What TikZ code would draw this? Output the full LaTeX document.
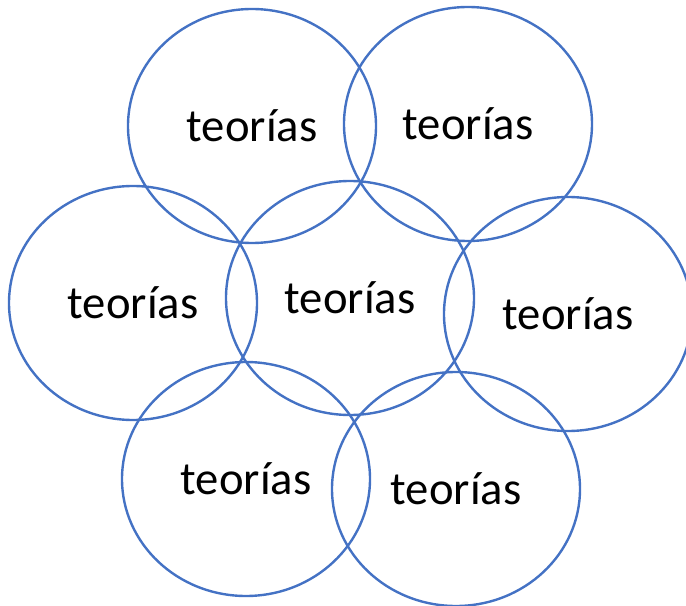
\documentclass[tikz,border=0pt]{standalone}
\usepackage{fontspec}
\setmainfont{Carlito}
\usetikzlibrary{shapes.geometric}
\definecolor{officeblue}{HTML}{4472C4}

\begin{document}
\begin{tikzpicture}[
    x=0.75pt, y=-0.75pt,
    teoria/.style={ellipse, draw=officeblue, line width=1.8pt, inner sep=0pt,
        minimum width=186pt, minimum height=175.5pt,
        font=\fontsize{35}{40}\selectfont}
]

% Page frame (pixel coordinates of the picture)
\useasboundingbox (0,0) rectangle (686,606);

% Top row
\node[teoria] (tl) at (252,126) {teorías};
\node[teoria] (tr) at (468,124) {teorías};

% Middle row
\node[teoria] (ml) at (133,303) {teorías};
\node[teoria] (c) at (350,298) {teorías};
\node[teoria] (r) at (568,314) {teorías};

% Bottom row
\node[teoria] (bl) at (246,479) {teorías};
\node[teoria] (br) at (456,489) {teorías};

\end{tikzpicture}
\end{document}
